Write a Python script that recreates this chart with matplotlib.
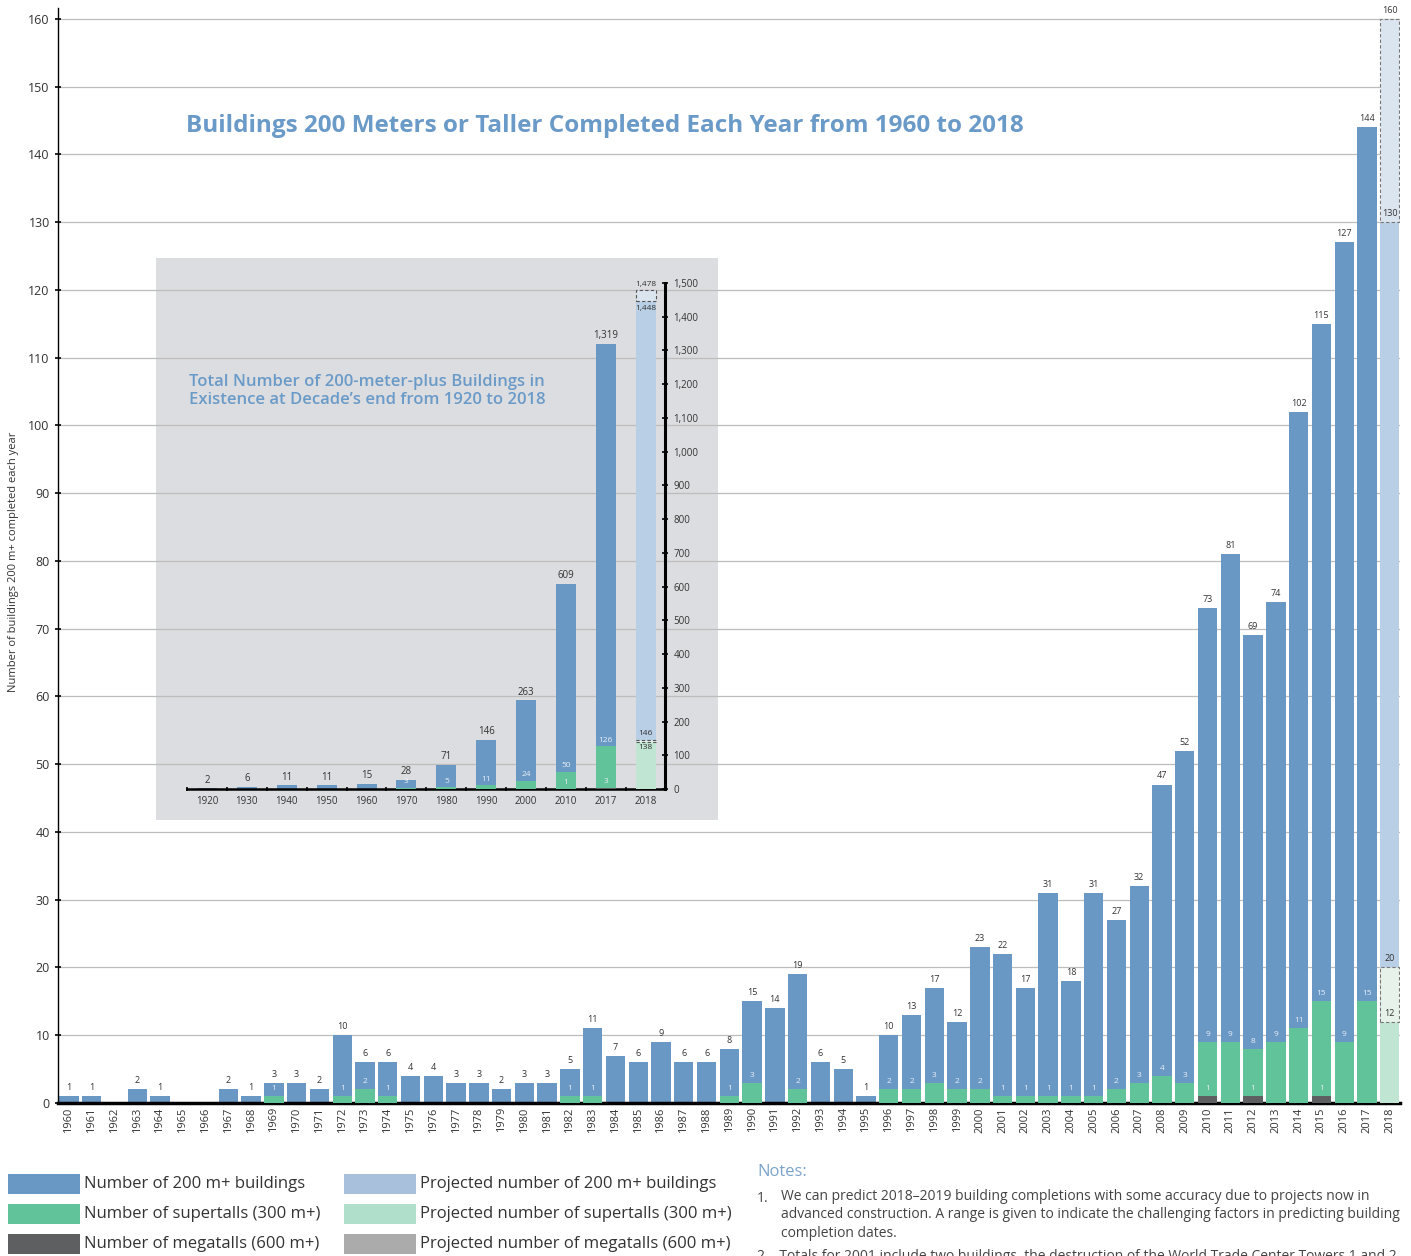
import matplotlib
matplotlib.use('Agg')
import matplotlib.pyplot as plt
import matplotlib.patches as mpatches
import numpy as np

plt.rcParams['font.family'] = ['Open Sans', 'DejaVu Sans']

# ---- data: yearly completions ----
years = list(range(1960, 2019))
total = [1, 1, 0, 2, 1, 0, 0, 2, 1, 3, 3, 2, 10, 6, 6, 4, 4, 3, 3, 2,
         3, 3, 5, 11, 7, 6, 9, 6, 6, 8, 15, 14, 19, 6, 5, 1, 10, 13, 17, 12,
         23, 22, 17, 31, 18, 31, 27, 32, 47, 52, 73, 81, 69, 74, 102, 115, 127, 144, 130]
supertall = [0, 0, 0, 0, 0, 0, 0, 0, 0, 1, 0, 0, 1, 2, 1, 0, 0, 0, 0, 0,
             0, 0, 1, 1, 0, 0, 0, 0, 0, 1, 3, 0, 2, 0, 0, 0, 2, 2, 3, 2,
             2, 1, 1, 1, 1, 1, 2, 3, 4, 3, 9, 9, 8, 9, 11, 15, 9, 15, 12]
megatall = [0] * 50 + [1, 0, 1, 0, 0, 1, 0, 0, 0]
proj_total_high = 160
proj_super_high = 20

# ---- data: cumulative by decade (inset) ----
decades = ['1920', '1930', '1940', '1950', '1960', '1970', '1980', '1990', '2000', '2010', '2017', '2018']
cum_total = [2, 6, 11, 11, 15, 28, 71, 146, 263, 609, 1319, 1448]
cum_super = [0, 0, 0, 0, 0, 3, 5, 11, 24, 50, 126, 138]
cum_mega = [0, 0, 0, 0, 0, 0, 0, 0, 0, 1, 3, 0]
cum_total_high = 1478
cum_super_high = 146

C_BLUE = '#6a98c4'
C_GREEN = '#61c39a'
C_MEGA = '#5e5f61'
C_PBLUE = '#b9cfe5'
C_PGREEN = '#c0e5d3'
C_PMEGA = '#ababab'
C_DBLUE = '#dbe5f0'
C_DGREEN = '#e6f2ea'
C_TITLE = '#6a9ac8'
C_TXT = '#333333'
C_IN = '#e8eef6'

W, H = 1411, 1256
fig = plt.figure(figsize=(W / 100, H / 100), dpi=100)


def fx(px):
    return px / W


def fy(py):
    return 1 - py / H


# gray box behind the inset, below main gridlines
bg = fig.add_axes([fx(156), fy(820), fx(718) - fx(156), fy(258) - fy(820)], zorder=-2)
bg.set_facecolor('#dcdde0')
bg.set_xticks([])
bg.set_yticks([])
for s in bg.spines.values():
    s.set_visible(False)

# ---- main axes ----
ax = fig.add_axes([fx(58), fy(1103), fx(1400) - fx(58), fy(8) - fy(1103)], zorder=0)
ax.patch.set_alpha(0)
x = np.arange(len(years))
bw = 0.85
n = len(years) - 1  # last one is projected

ax.bar(x[:n], total[:n], bw, color=C_BLUE, zorder=2)
ax.bar(x[:n], supertall[:n], bw, color=C_GREEN, zorder=3)
ax.bar(x[:n], megatall[:n], bw, color=C_MEGA, zorder=4)

# projected 2018
xi = x[-1]
ax.bar(xi, total[-1], bw, color=C_PBLUE, zorder=2)
ax.bar(xi, proj_total_high - total[-1], bw, bottom=total[-1], color=C_DBLUE,
       edgecolor='#777777', linestyle=(0, (3, 2)), linewidth=0.8, zorder=2)
ax.bar(xi, supertall[-1], bw, color=C_PGREEN, zorder=3)
ax.bar(xi, proj_super_high - supertall[-1], bw, bottom=supertall[-1], color=C_DGREEN,
       edgecolor='#777777', linestyle=(0, (3, 2)), linewidth=0.8, zorder=3)

# labels
for i in range(n):
    if total[i] > 0:
        ax.text(x[i], total[i] + 0.6, str(total[i]), ha='center', va='bottom',
                fontsize=6.5, color=C_TXT, zorder=6)
    if supertall[i] > 0:
        ax.text(x[i], supertall[i] + 0.6, str(supertall[i]), ha='center', va='bottom',
                fontsize=6, color=C_IN, zorder=6)
    if megatall[i] > 0:
        ax.text(x[i], megatall[i] + 0.6, str(megatall[i]), ha='center', va='bottom',
                fontsize=6, color=C_IN, zorder=6)
ax.text(xi, proj_total_high + 0.6, str(proj_total_high), ha='center', va='bottom',
        fontsize=6.5, color=C_TXT, zorder=6)
ax.text(xi, total[-1] + 0.6, str(total[-1]), ha='center', va='bottom',
        fontsize=6.5, color=C_TXT, zorder=6)
ax.text(xi, proj_super_high + 0.6, str(proj_super_high), ha='center', va='bottom',
        fontsize=6.5, color=C_TXT, zorder=6)
ax.text(xi, supertall[-1] + 0.6, str(supertall[-1]), ha='center', va='bottom',
        fontsize=6.5, color=C_TXT, zorder=6)

ax.set_xlim(-0.48, 58.45)
ax.set_ylim(0, 161.6)
ax.set_yticks(range(0, 161, 10))
ax.set_xticks(x)
ax.set_xticklabels([str(y) for y in years], rotation=90, fontsize=8, color=C_TXT)
ax.tick_params(axis='x', length=0, pad=3)
ax.tick_params(axis='y', length=4, width=1.2, direction='inout', labelsize=9,
               labelcolor=C_TXT, pad=4)
ax.set_axisbelow(True)
ax.grid(axis='y', color='#bdbdbd', linewidth=0.9, zorder=1)
for s in ['top', 'right']:
    ax.spines[s].set_visible(False)
ax.spines['bottom'].set_linewidth(2.5)
ax.spines['left'].set_linewidth(1.0)
fig.text(fx(14), fy(562), 'Number of buildings 200 m+ completed each year',
         rotation=90, ha='center', va='center', fontsize=8, color=C_TXT)

fig.text(fx(605), fy(126), 'Buildings 200 Meters or Taller Completed Each Year from 1960 to 2018',
         ha='center', va='center', fontsize=17.5, fontweight='bold', color=C_TITLE)

# ---- inset axes ----
ix = fig.add_axes([fx(187), fy(789), fx(665) - fx(187), fy(283) - fy(789)], zorder=1)
ix.patch.set_alpha(0)
xd = np.arange(len(decades))
ib = 0.5
m = len(decades) - 1
ix.bar(xd[:m], cum_total[:m], ib, color=C_BLUE, zorder=2)
ix.bar(xd[:m], cum_super[:m], ib, color=C_GREEN, zorder=3)
ix.bar(xd[:m], cum_mega[:m], ib, color=C_MEGA, zorder=4)
xj = xd[-1]
ix.bar(xj, cum_total[-1], ib, color=C_PBLUE, zorder=2)
ix.bar(xj, cum_total_high - cum_total[-1], ib, bottom=cum_total[-1], color=C_DBLUE,
       edgecolor='#555555', linestyle=(0, (3, 2)), linewidth=0.8, zorder=2)
ix.bar(xj, cum_super[-1], ib, color=C_PGREEN, zorder=3)
ix.bar(xj, cum_super_high - cum_super[-1], ib, bottom=cum_super[-1], color=C_DGREEN,
       edgecolor='#555555', linestyle=(0, (3, 2)), linewidth=0.8, zorder=3)

for i in range(m):
    ix.text(xd[i], cum_total[i] + 8, f'{cum_total[i]:,}', ha='center', va='bottom',
            fontsize=7, color=C_TXT, zorder=6)
    if cum_super[i] > 0:
        ix.text(xd[i], cum_super[i] + 8, f'{cum_super[i]:,}', ha='center', va='bottom',
                fontsize=6, color=C_IN, zorder=6)
    if cum_mega[i] > 0:
        ix.text(xd[i], cum_mega[i] + 8, f'{cum_mega[i]:,}', ha='center', va='bottom',
                fontsize=6, color=C_IN, zorder=6)
ix.text(xj, cum_total_high + 8, f'{cum_total_high:,}', ha='center', va='bottom',
        fontsize=6, color=C_TXT, zorder=6)
ix.text(xj, cum_total[-1] - 12, f'{cum_total[-1]:,}', ha='center', va='top',
        fontsize=6, color=C_TXT, zorder=6)
ix.text(xj, cum_super_high + 8, f'{cum_super_high:,}', ha='center', va='bottom',
        fontsize=6, color=C_TXT, zorder=6)
ix.text(xj, cum_super[-1] - 4, f'{cum_super[-1]:,}', ha='center', va='top',
        fontsize=6, color=C_TXT, zorder=6)

ix.set_xlim(-0.5, 11.48)
ix.set_ylim(0, 1500)
ix.set_xticks(xd)
ix.set_xticklabels(decades, fontsize=7, color=C_TXT)
ix.set_xticks(np.arange(-0.5, 11.5, 1), minor=True)
ix.tick_params(axis='x', which='major', length=0, pad=5)
ix.tick_params(axis='x', which='minor', length=3, width=1.2, direction='inout')
ix.yaxis.tick_right()
ix.set_yticks(range(0, 1501, 100))
ix.set_yticklabels([f'{v:,}' for v in range(0, 1501, 100)])
ix.tick_params(axis='y', length=4, width=1.2, direction='inout', labelsize=7,
               labelcolor=C_TXT, pad=4)
for s in ['top', 'left']:
    ix.spines[s].set_visible(False)
ix.spines['right'].set_linewidth(2.2)
ix.spines['bottom'].set_linewidth(1.8)

fig.text(fx(189), fy(391), "Total Number of 200-meter-plus Buildings in\nExistence at Decade\u2019s end from 1920 to 2018",
         ha='left', va='center', fontsize=12, fontweight=600, color=C_TITLE,
         linespacing=1.2)

# ---- legend ----
leg = [
    (8, 1184, C_BLUE, 'Number of 200 m+ buildings'),
    (8, 1214, C_GREEN, 'Number of supertalls (300 m+)'),
    (8, 1244, C_MEGA, 'Number of megatalls (600 m+)'),
    (344, 1184, '#a9c0dd', 'Projected number of 200 m+ buildings'),
    (344, 1214, '#b0e0cb', 'Projected number of supertalls (300 m+)'),
    (344, 1244, C_PMEGA, 'Projected number of megatalls (600 m+)'),
]
for lx, ly, col, lab in leg:
    r = mpatches.Rectangle((fx(lx), fy(ly + 10)), fx(72), 20 / H,
                           transform=fig.transFigure, facecolor=col, edgecolor='none')
    fig.patches.append(r)
    fig.text(fx(lx + 76), fy(ly), lab, ha='left', va='center', fontsize=12, color=C_TXT)

# ---- notes ----
fig.text(fx(757), fy(1172), 'Notes:', ha='left', va='center', fontsize=12, color='#7aa3cc')
fig.text(fx(757), fy(1198), '1.', ha='left', va='center', fontsize=10, color='#444444')
fig.text(fx(781), fy(1189),
         'We can predict 2018\u20132019 building completions with some accuracy due to projects now in\n'
         'advanced construction. A range is given to indicate the challenging factors in predicting building\n'
         'completion dates.',
         ha='left', va='top', fontsize=10, color='#444444', linespacing=1.3)
fig.text(fx(757), fy(1249), '2.   Totals for 2001 include two buildings, the destruction of the World Trade Center Towers 1 and 2',
         ha='left', va='top', fontsize=10, color='#444444')

fig.savefig('out.png', dpi=100)
